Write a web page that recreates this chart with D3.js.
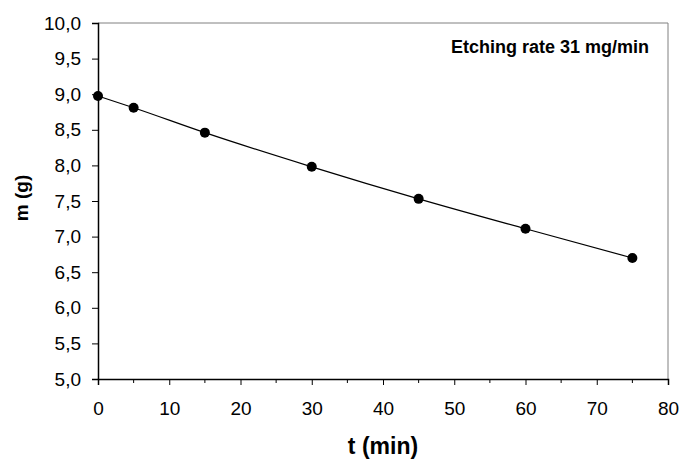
<!DOCTYPE html>
<html lang="en">
<head>
<meta charset="UTF-8">
<title>Etching rate</title>
<script src="https://d3js.org/d3.v7.min.js"></script>
<style>
  body, html { margin: 0; padding: 0; background: #fff; }
  svg { display: block; font-family: "Liberation Sans", Arial, sans-serif; }
</style>
</head>
<body>
<svg></svg>
<script>
// data
const times = [0, 5, 15, 30, 45, 60, 75];
const masses = [8.975, 8.81, 8.46, 7.98, 7.53, 7.11, 6.70];
const xTicks = [0, 10, 20, 30, 40, 50, 60, 70, 80];
const yTicks = [5, 5.5, 6, 6.5, 7, 7.5, 8, 8.5, 9, 9.5, 10];

const width = 680, height = 459;
const plotL = 98, plotR = 668, plotT = 23, plotB = 379;

const svg = d3.select("svg").attr("width", width).attr("height", height);

const x = d3.scaleLinear().domain([0, 80]).range([plotL, plotR]);
const y = d3.scaleLinear().domain([5, 10]).range([plotB, plotT]);

const fmt = d => d3.format(".1f")(d).replace(".", ",");

// frame: top and right in gray
svg.append("path")
  .attr("d", `M${plotL},${plotT}H${plotR}V${plotB}`)
  .attr("fill", "none").attr("stroke", "#808080").attr("stroke-width", 1);

// y axis
const yAxis = svg.append("g").attr("transform", `translate(${plotL},0)`)
  .call(d3.axisLeft(y).tickValues(yTicks).tickFormat(fmt).tickSize(6).tickPadding(11));
yAxis.select(".domain").attr("stroke", "#000").attr("stroke-width", 1.5);
yAxis.selectAll("text").attr("font-size", 19).attr("fill", "#000");

// x axis, minor ticks at the 5s
const xAxis = svg.append("g").attr("transform", `translate(0,${plotB})`)
  .call(d3.axisBottom(x).tickValues(xTicks).tickSize(6).tickPadding(17));
xAxis.select(".domain").attr("stroke", "#000").attr("stroke-width", 1.5);
xAxis.selectAll("text").attr("font-size", 19).attr("fill", "#000");
xAxis.selectAll(".minor").data(d3.range(5, 80, 10)).enter().append("line")
  .attr("class", "minor")
  .attr("x1", d => x(d)).attr("x2", d => x(d))
  .attr("y1", 0).attr("y2", 4)
  .attr("stroke", "#000");

// line through the points
const line = d3.line().x((d, i) => x(times[i])).y(d => y(d)).curve(d3.curveMonotoneX);
svg.append("path").datum(masses)
  .attr("d", line).attr("fill", "none").attr("stroke", "#000").attr("stroke-width", 1.2);

svg.selectAll(".dot").data(masses).enter().append("circle")
  .attr("class", "dot")
  .attr("cx", (d, i) => x(times[i])).attr("cy", d => y(d))
  .attr("r", 5).attr("fill", "#000");

// titles
svg.append("text").attr("x", 383).attr("y", 454).attr("text-anchor", "middle")
  .attr("font-size", 23).attr("font-weight", "bold").text("t (min)");
svg.append("text").attr("transform", "translate(28,198) rotate(-90)").attr("text-anchor", "middle")
  .attr("font-size", 19).attr("font-weight", "bold").text("m (g)");
svg.append("text").attr("x", 649).attr("y", 53).attr("text-anchor", "end")
  .attr("font-size", 18).attr("font-weight", "bold").text("Etching rate 31 mg/min");
</script>
</body>
</html>
